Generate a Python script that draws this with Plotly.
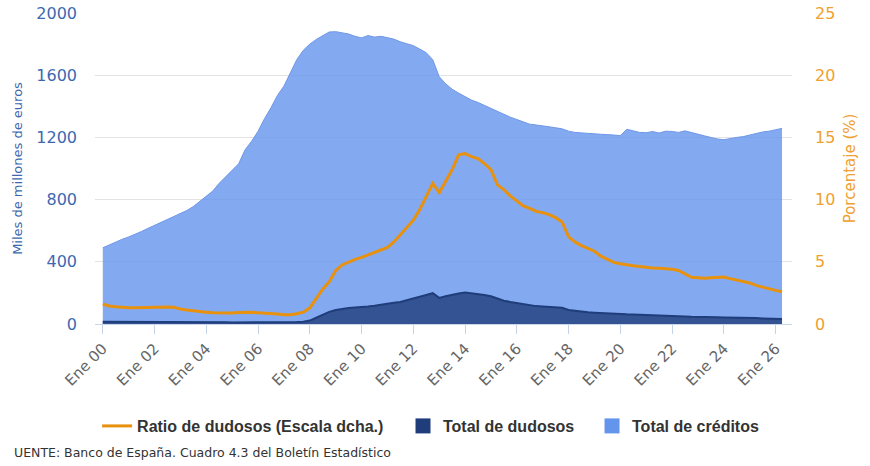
import plotly.graph_objects as go

# Quarterly dates (Jan, Apr, Jul, Oct) from Jan-2000 to Apr-2026
years = list(range(2000, 2027))
months = ["01", "04", "07", "10"]
fechas = [f"{y}-{m}-01" for y in years for m in months][:106]

total_creditos = [
    490, 510, 530, 545,
    560, 575, 595, 615,
    635, 650, 670, 690,
    710, 730, 755, 790,
    820, 855, 905, 945,
    985, 1030, 1120, 1175,
    1240, 1320, 1390, 1470,
    1530, 1620, 1700, 1760,
    1800, 1830, 1855, 1878,
    1880, 1872, 1865, 1850,
    1840, 1855, 1845, 1850,
    1840, 1832, 1815, 1800,
    1790, 1768, 1745, 1700,
    1590, 1545, 1510, 1485,
    1460, 1440, 1425, 1405,
    1385, 1365, 1350, 1330,
    1315, 1300, 1285, 1280,
    1275, 1268, 1262, 1255,
    1240, 1232, 1228, 1225,
    1222, 1220, 1218, 1215,
    1212, 1252, 1240, 1232,
    1230, 1238, 1228, 1240,
    1238, 1232, 1242, 1230,
    1222, 1210, 1200, 1190,
    1185, 1195, 1200, 1205,
    1215, 1228, 1235, 1240,
    1248, 1258,
]

total_dudosos = [
    15, 15, 14, 14,
    14, 14, 13, 13,
    13, 13, 12, 12,
    12, 12, 12, 11,
    11, 11, 11, 11,
    10, 10, 10, 10,
    10, 10, 10, 11,
    11, 12, 13, 15,
    22, 40, 60, 78,
    90, 98, 103, 106,
    108, 112, 117, 122,
    128, 136, 142, 152,
    165, 175, 186, 198,
    168, 178, 188, 196,
    202, 198, 193, 186,
    178, 162, 150, 142,
    135, 128, 120, 115,
    112, 110, 108, 104,
    90, 84, 80, 76,
    73, 70, 68, 65,
    63, 62, 61, 60,
    59, 58, 57, 55,
    53, 51, 49, 47,
    45, 44, 44, 43,
    42, 42, 41, 40,
    39, 38, 36, 35,
    33, 32,
]

ratio_dudosos = [
    1.60, 1.45, 1.38, 1.32,
    1.30, 1.30, 1.32, 1.35,
    1.35, 1.36, 1.37, 1.35,
    1.20, 1.12, 1.05, 1.00,
    0.95, 0.90, 0.88, 0.86,
    0.88, 0.92, 0.95, 0.95,
    0.90, 0.88, 0.85, 0.80,
    0.75, 0.75, 0.82, 0.95,
    1.30, 2.10, 2.80, 3.40,
    4.30, 4.75, 5.00, 5.20,
    5.35, 5.55, 5.70, 5.90,
    6.15, 6.60, 7.20, 7.80,
    8.35, 9.20, 10.20, 11.30,
    10.55, 11.50, 12.40, 13.60,
    13.70, 13.45, 13.30, 12.90,
    12.40, 11.20, 10.80, 10.30,
    9.90, 9.50, 9.30, 9.05,
    8.95, 8.80, 8.55, 8.20,
    7.00, 6.60, 6.30, 6.05,
    5.85, 5.45, 5.20, 4.95,
    4.85, 4.75, 4.68, 4.62,
    4.55, 4.50, 4.48, 4.45,
    4.40, 4.30, 4.05, 3.75,
    3.72, 3.68, 3.72, 3.78,
    3.78, 3.65, 3.55, 3.40,
    3.30, 3.10, 2.95, 2.80,
    2.70, 2.60,
]

tick_dates = [f"{y}-01-01" for y in range(2000, 2027, 2)]
tick_labels = [f"Ene {y % 100:02d}" for y in range(2000, 2027, 2)]

BLUE_TXT = "#3d68b0"
ORANGE = "#E8910E"
ORANGE_TXT = "#f0a030"
LEG_FONT = dict(family="Liberation Sans", size=16, color="#333333", weight="bold")

fig = go.Figure()
fig.add_trace(go.Scatter(
    x=fechas, y=total_creditos, name="Total de créditos",
    mode="lines", fill="tozeroy", line=dict(color="#6f97e6", width=1),
    fillcolor="rgba(100,149,237,0.8)", yaxis="y",
    legendgroup="cred", showlegend=False,
))
fig.add_trace(go.Scatter(
    x=fechas, y=total_dudosos, name="Total de dudosos",
    mode="lines", fill="tozeroy", line=dict(color="#1f3d7a", width=2),
    fillcolor="rgba(31,61,122,0.8)", yaxis="y",
    legendgroup="dud", showlegend=False,
))
fig.add_trace(go.Scatter(
    x=fechas, y=ratio_dudosos, name="Ratio de dudosos (Escala dcha.)",
    mode="lines", line=dict(color=ORANGE, width=3), yaxis="y2",
    legend="legend",
))
# legend-only square swatches for the two areas
fig.add_trace(go.Scatter(
    x=[None], y=[None], name="Total de dudosos", mode="markers",
    marker=dict(symbol="square", size=15, color="#1f3d7a"),
    legendgroup="dud", legend="legend2",
))
fig.add_trace(go.Scatter(
    x=[None], y=[None], name="Total de créditos", mode="markers",
    marker=dict(symbol="square", size=15, color="#6495ED"),
    legendgroup="cred", legend="legend3",
))

leg_common = dict(orientation="h", y=-0.328, xanchor="left", yanchor="middle",
                  font=LEG_FONT, bgcolor="rgba(0,0,0,0)")

fig.update_layout(
    width=870, height=466,
    margin=dict(l=95, r=78, t=13, b=142, autoexpand=False),
    paper_bgcolor="white", plot_bgcolor="white",
    font=dict(family="DejaVu Sans", size=13),
    showlegend=True,
    legend=dict(x=0.003, **leg_common),
    legend2=dict(x=0.4419, **leg_common),
    legend3=dict(x=0.7131, **leg_common),
    xaxis=dict(
        type="date", range=["1999-09-13", "2026-08-20"],
        tickvals=tick_dates, ticktext=tick_labels, tickangle=-45,
        showgrid=False, ticks="outside", ticklen=9, tickcolor="#c5d3e8",
        tickfont=dict(color="#666666", size=15),
        showline=True, linecolor="#ccd6eb", linewidth=1,
        zeroline=False,
    ),
    yaxis=dict(
        range=[0, 2000], tickvals=[0, 400, 800, 1200, 1600, 2000],
        showgrid=True, gridcolor="#e3e3e3", gridwidth=1,
        tickfont=dict(color=BLUE_TXT, size=16),
        ticklabelstandoff=17, zeroline=False,
        title=dict(text="Miles de millones de euros", font=dict(color=BLUE_TXT, size=13), standoff=10),
    ),
    yaxis2=dict(
        range=[0, 25], tickvals=[0, 5, 10, 15, 20, 25],
        overlaying="y", side="right", showgrid=False, zeroline=False,
        tickfont=dict(color=ORANGE_TXT, size=16), ticklabelstandoff=22,
        title=dict(text="Porcentaje (%)", font=dict(color=ORANGE_TXT, size=15), standoff=10),
    ),
    annotations=[dict(
        text="UENTE: Banco de España. Cuadro 4.3 del Boletín Estadístico",
        xref="paper", yref="paper", x=-0.119, y=-0.4116,
        xanchor="left", yanchor="middle", showarrow=False,
        font=dict(family="DejaVu Sans", size=12.5, color="#333333"),
    )],
)

fig.write_html("out.html", config={"displayModeBar": False},
               post_script="document.body.style.margin='0px';")
